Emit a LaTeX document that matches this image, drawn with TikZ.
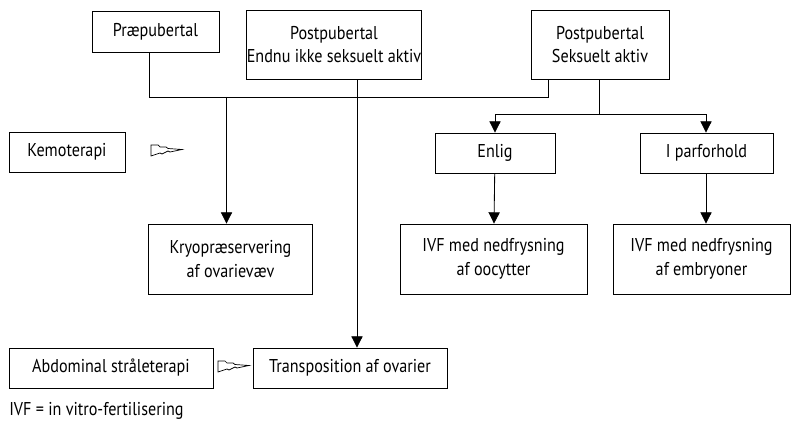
\documentclass[tikz,border=0pt]{standalone}
\usepackage{fontspec}
\setsansfont{PT Sans}[FakeStretch=0.87]
\usetikzlibrary{arrows.meta}

\begin{document}
\begin{tikzpicture}[x=0.025cm,y=-0.025cm,font=\sffamily\fontsize{13.2}{17}\selectfont,
    box/.style={draw,line width=0.6pt,align=center,inner sep=0pt},
    conn/.style={line width=0.6pt},
    arr/.style={conn,-{Triangle[width=8pt,length=8pt]}}]

        \useasboundingbox (0,0) rectangle (795,426);

        % Top row
        \node[box,minimum width=3.175cm,minimum height=1.025cm] (prae) at (155.5,31.5) {Præpubertal};
        \node[box,minimum width=4.35cm,minimum height=1.725cm] (endnu) at (334,44.5) {Postpubertal\\Endnu ikke seksuelt aktiv};
        \node[box,minimum width=3.45cm,minimum height=1.725cm] (aktiv) at (600,44.5) {Postpubertal\\Seksuelt aktiv};

        % Middle row
        \node[box,minimum width=2.9cm,minimum height=1cm] (kemo) at (67,152) {Kemoterapi};
        \node[box,minimum width=3cm,minimum height=1cm] (enlig) at (495,153) {Enlig};
        \node[box,minimum width=3.325cm,minimum height=1cm] (parfor) at (706.5,153) {I parforhold};

        % Treatments
        \node[box,minimum width=4.1cm,minimum height=1.75cm] (kryo) at (230.5,259) {Kryopræservering\\af ovarievæv};
        \node[box,minimum width=4.675cm,minimum height=1.75cm] (oocyt) at (493.5,259) {IVF med nedfrysning\\af oocytter};
        \node[box,minimum width=4.425cm,minimum height=1.75cm] (embryo) at (701.5,259) {IVF med nedfrysning\\af embryoner};

        % Bottom row
        \node[box,minimum width=5.1cm,minimum height=1cm] (abdom) at (111,368) {Abdominal stråleterapi};
        \node[box,minimum width=4.85cm,minimum height=1cm] (transp) at (350,368) {Transposition af ovarier};
        \node[anchor=west,inner sep=0pt] (ivf) at (9,411) {IVF = in vitro-fertilisering};

        % Bus lines
        \coordinate (bl) at (149.5,97);
        \coordinate (br) at (548,97);
        \coordinate (bk) at (226.5,97);
        \coordinate (sl) at (495,114);
        \coordinate (sr) at (706,114);
        \draw[conn] (prae.south -| bl) -- (bl) -- (br) -- (aktiv.south -| br);
        \draw[arr] (bk) -- (kryo.north -| bk);
        \draw[arr] (endnu.south -| 357,0) -- (transp.north -| 357,0);
        \draw[conn] (aktiv.south -| 599,0) -- (599,114) coordinate (sm);
        \draw[arr] (sm) -- (sl) -- (enlig.north -| sl);
        \draw[arr] (sm) -- (sr) -- (parfor.north -| sr);
        \draw[arr] (enlig) -- (oocyt);
        \draw[arr] (parfor.south -| sr) -- (embryo.north -| sr);

        % Bolts
        \foreach \bx/\by in {151/145, 218/361}
            \draw[line width=0.5pt,shift={(\bx,\by)}] (0,0) -- (7,0) -- (9,2) -- (15,2) -- (17,3.5) -- (31,4.5)
                -- (19,7) -- (17,6) -- (11,9) -- (9,8) -- (0,11) -- cycle;
    \end{tikzpicture}
\end{document}
